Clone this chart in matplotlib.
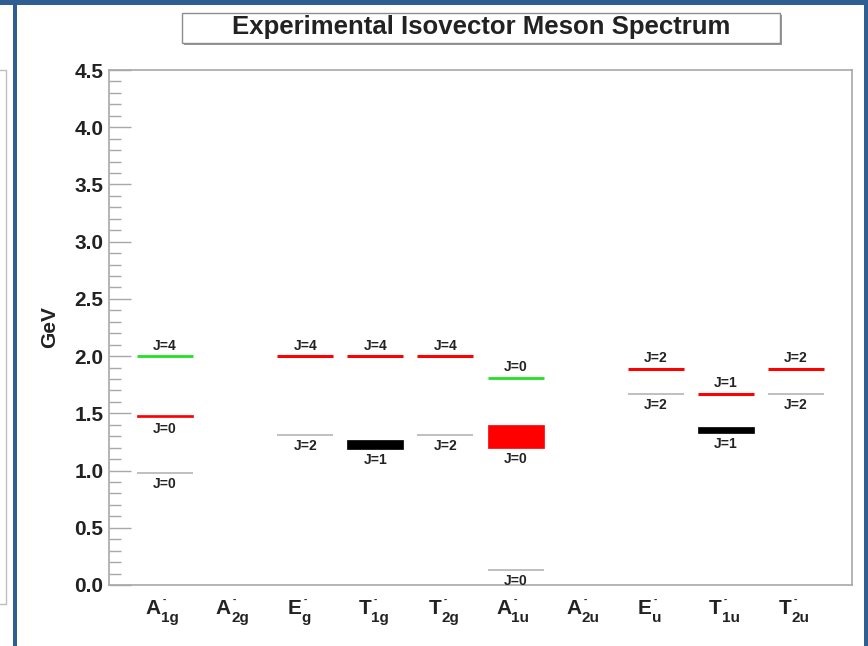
import matplotlib
matplotlib.use("Agg")
import matplotlib.pyplot as plt
from matplotlib.patches import Rectangle
from matplotlib.ticker import MultipleLocator

plt.rcParams['font.family'] = ['Liberation Sans', 'DejaVu Sans']
plt.rcParams['mathtext.fontset'] = 'custom'
plt.rcParams['mathtext.rm'] = 'Liberation Sans:bold'
plt.rcParams['mathtext.bf'] = 'Liberation Sans:bold'
plt.rcParams['mathtext.it'] = 'Liberation Sans:bold'

# ---------------- data ----------------
categories = ['A1g', 'A2g', 'Eg', 'T1g', 'T2g', 'A1u', 'A2u', 'Eu', 'T1u', 'T2u']
tick_main = ['A', 'A', 'E', 'T', 'T', 'A', 'A', 'E', 'T', 'T']
tick_sub = ['1g', '2g', 'g', '1g', '2g', '1u', '2u', 'u', '1u', '2u']

level_cat = ['A1g', 'A1g', 'A1g', 'Eg', 'Eg', 'T1g', 'T1g', 'T2g', 'T2g',
             'A1u', 'A1u', 'A1u', 'Eu', 'Eu', 'T1u', 'T1u', 'T2u', 'T2u']
level_lo = [2.00, 1.465, 0.98, 2.00, 1.31, 2.00, 1.19, 2.00, 1.31,
            1.81, 1.20, 0.13, 1.89, 1.67, 1.67, 1.33, 1.89, 1.67]
level_hi = [2.00, 1.485, 0.98, 2.00, 1.31, 2.00, 1.27, 2.00, 1.31,
            1.81, 1.40, 0.13, 1.89, 1.67, 1.67, 1.38, 1.89, 1.67]
level_kind = ['green', 'red', 'gray', 'red', 'gray', 'red', 'black', 'red', 'gray',
              'green', 'red', 'gray', 'red', 'gray', 'red', 'black', 'red', 'gray']
level_J = ['J=4', 'J=0', 'J=0', 'J=4', 'J=2', 'J=4', 'J=1', 'J=4', 'J=2',
           'J=0', 'J=0', 'J=0', 'J=2', 'J=2', 'J=1', 'J=1', 'J=2', 'J=2']
label_above = [True, False, False, True, False, True, False, True, False,
               True, False, False, True, False, True, False, True, False]

# ---------------- styles ----------------
colors = {'green': '#22e022', 'red': '#ff0000', 'gray': '#b4b4b4', 'black': '#000000'}
lws = {'green': 2.0, 'red': 2.2, 'gray': 1.2, 'black': 2.0}
half_w = 0.40
frame_col = '#a8a8a8'
blue = '#2e5e92'
txt = '#222222'

fig = plt.figure(figsize=(8.68, 6.46), dpi=100)
W, H = 868, 646

# slide decorations
fig.patches.append(Rectangle((0, 1 - 5 / H), 1, 5 / H, transform=fig.transFigure,
                             facecolor=blue, edgecolor='none', zorder=0))
fig.patches.append(Rectangle((13 / W, 0), 3.5 / W, 1, transform=fig.transFigure,
                             facecolor=blue, edgecolor='none', zorder=0))
fig.patches.append(Rectangle((864 / W, 0), 4 / W, 1, transform=fig.transFigure,
                             facecolor=blue, edgecolor='none', zorder=0))
fig.patches.append(Rectangle((-5 / W, 1 - 604 / H), 11 / W, 534 / H, transform=fig.transFigure,
                             facecolor='white', edgecolor='#bdbdbd', lw=1.0, zorder=0))

ax = fig.add_axes([109 / W, 1 - 585 / H, (852 - 109) / W, (585 - 70) / H])
xpos = {c: i for i, c in enumerate(categories)}
ax.set_xlim(-0.8, 9.8)
ax.set_ylim(0, 4.5)

for c, lo, hi, k, J, up in zip(level_cat, level_lo, level_hi, level_kind, level_J, label_above):
    x = xpos[c]
    if hi > lo:
        ax.bar(x, hi - lo, bottom=lo, width=2 * half_w, color=colors[k],
               edgecolor=colors[k], lw=0.5, zorder=3)
    else:
        ax.hlines(lo, x - half_w, x + half_w, colors=colors[k], lw=lws[k], zorder=3)
    if up:
        ax.annotate(J, (x, hi), xytext=(0, 2.5), textcoords='offset points',
                    ha='center', va='bottom', fontsize=10, fontweight='bold', color=txt)
    else:
        ax.annotate(J, (x, lo), xytext=(0, -3), textcoords='offset points',
                    ha='center', va='top', fontsize=10, fontweight='bold', color=txt)

for s in ax.spines.values():
    s.set_color(frame_col)
    s.set_linewidth(1.2)

ax.yaxis.set_major_locator(MultipleLocator(0.5))
ax.yaxis.set_minor_locator(MultipleLocator(0.1))
ax.set_yticks([0, 0.5, 1.0, 1.5, 2.0, 2.5, 3.0, 3.5, 4.0, 4.5])
ax.set_yticklabels(['0.0', '0.5', '1.0', '1.5', '2.0', '2.5', '3.0', '3.5', '4.0', '4.5'],
                   fontsize=15, fontweight='bold', color=txt)
ax.tick_params(axis='y', which='major', direction='in', length=15.5, width=1.0,
               color=frame_col, pad=4)
ax.tick_params(axis='y', which='minor', direction='in', length=8.5, width=1.0,
               color=frame_col)

# category labels: main letter, small superscript dash, subscript
ax.set_xticks(range(len(categories)))
ax.set_xticklabels([''] * len(categories))
ax.tick_params(axis='x', which='both', length=0)
for i, (m, sb) in enumerate(zip(tick_main, tick_sub)):
    ax.annotate(m, (i, 0), xycoords=('data', 'axes fraction'), xytext=(-3, -10),
                textcoords='offset points', ha='right', va='top', fontsize=15,
                fontweight='bold', color=txt, annotation_clip=False)
    ax.annotate(sb, (i, 0), xycoords=('data', 'axes fraction'), xytext=(-3, -19),
                textcoords='offset points', ha='left', va='top', fontsize=11,
                fontweight='bold', color=txt, annotation_clip=False)
    ax.annotate('-', (i, 0), xycoords=('data', 'axes fraction'), xytext=(-1.5, -7),
                textcoords='offset points', ha='left', va='top', fontsize=7,
                fontweight='bold', color=txt, annotation_clip=False)

fig.text(50 / W, 1 - 327 / H, 'GeV', rotation=90, ha='center', va='center',
         fontsize=15, fontweight='bold', color=txt)

# title box with shadow
fig.patches.append(Rectangle((184 / W, 1 - 45 / H), 598 / W, 30 / H, transform=fig.transFigure,
                             facecolor='#9a9a9a', edgecolor='none', zorder=1))
fig.patches.append(Rectangle((182 / W, 1 - 43 / H), 598 / W, 30 / H, transform=fig.transFigure,
                             facecolor='white', edgecolor='#8c8c8c', lw=1.0, zorder=2))
fig.text(481 / W, 1 - 27 / H, 'Experimental Isovector Meson Spectrum', ha='center',
         va='center', fontsize=18.5, fontweight='bold', color=txt, zorder=3)

fig.savefig('out.png', dpi=100, facecolor='white')
